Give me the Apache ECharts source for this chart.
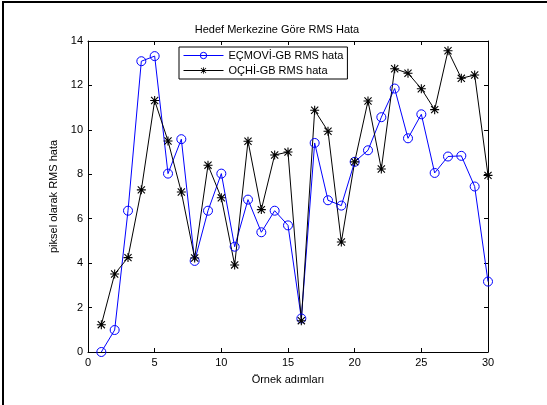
<!DOCTYPE html>
<html>
<head>
<meta charset="utf-8">
<script src="https://cdn.jsdelivr.net/npm/echarts@6/dist/echarts.min.js"></script>
<style>
  html, body { margin: 0; padding: 0; background: #fff; }
  #chart { width: 547px; height: 405px; }
</style>
</head>
<body>
<div id="chart"></div>
<script>
// sample steps (x) and the two RMS error series
const steps = [1, 2, 3, 4, 5, 6, 7, 8, 9, 10, 11, 12, 13, 14, 15,
               16, 17, 18, 19, 20, 21, 22, 23, 24, 25, 26, 27, 28, 29, 30];
const ecmoviRms = [0.0, 0.99, 6.36, 13.09, 13.32, 8.03, 9.58, 4.10, 6.36, 8.03,
                   4.74, 6.86, 5.39, 6.36, 5.70, 1.51, 9.41, 6.83, 6.59, 8.56,
                   9.08, 10.57, 11.86, 9.62, 10.70, 8.06, 8.80, 8.83, 7.45, 3.17];
const ochiRms = [1.23, 3.51, 4.25, 7.30, 11.32, 9.50, 7.20, 4.23, 8.41, 6.94,
                 3.92, 9.49, 6.41, 8.87, 9.00, 1.41, 10.88, 9.94, 4.95, 8.56,
                 11.30, 8.24, 12.75, 12.55, 11.85, 10.91, 13.56, 12.32, 12.47, 7.95];

const pairs = (ys) => steps.map((x, i) => [x, ys[i]]);

// matlab-style '*' marker
const asterisk = 'path://M8.8,0L11.2,0L11.2,20L8.8,20Z M0,8.8L20,8.8L20,11.2L0,11.2Z ' +
  'M1.2,2.9L2.9,1.2L18.8,17.1L17.1,18.8Z M17.1,1.2L18.8,2.9L2.9,18.8L1.2,17.1Z';

const font = 'Liberation Sans';
const tickStyle = { show: true, inside: true, length: 4, lineStyle: { color: '#000' } };

const chart = echarts.init(document.getElementById('chart'), null, { renderer: 'canvas' });
chart.setOption({
  animation: false,
  backgroundColor: '#fff',
  textStyle: { fontFamily: font },
  title: {
    text: 'Hedef Merkezine Göre RMS Hata',
    left: 272, top: 19, textAlign: 'center',
    textStyle: { fontFamily: font, fontSize: 11, fontWeight: 'normal', color: '#000' }
  },
  grid: { left: 88, right: 59, top: 41, bottom: 53 },
  legend: {
    orient: 'vertical',
    left: 179, top: 47,
    padding: [3, 4, 3, 4],
    itemGap: 4,
    itemWidth: 40, itemHeight: 8,
    backgroundColor: '#fff',
    borderColor: '#000', borderWidth: 1, borderRadius: 0,
    lineStyle: { width: 1 },
    itemStyle: { borderWidth: 1 },
    textStyle: { fontFamily: font, fontSize: 11, color: '#000' },
    data: ['EÇMOVİ-GB RMS hata', 'OÇHİ-GB RMS hata']
  },
  xAxis: [{
    type: 'value', min: 0, max: 30, interval: 5,
    name: 'Örnek adımları', nameLocation: 'middle', nameGap: 22,
    nameTextStyle: { fontFamily: font, fontSize: 11, color: '#000' },
    axisLine: { show: true, onZero: false, lineStyle: { color: '#000' } },
    axisTick: tickStyle,
    axisLabel: { fontFamily: font, fontSize: 11, color: '#000', margin: 5 },
    splitLine: { show: false }
  }, {
    type: 'value', min: 0, max: 30, interval: 5, position: 'top',
    axisLine: { show: true, onZero: false, lineStyle: { color: '#000' } },
    axisTick: tickStyle, axisLabel: { show: false }, splitLine: { show: false }
  }],
  yAxis: [{
    type: 'value', min: 0, max: 14, interval: 2,
    name: 'piksel olarak RMS hata', nameLocation: 'middle', nameGap: 22,
    nameTextStyle: { fontFamily: font, fontSize: 11, color: '#000' },
    axisLine: { show: true, onZero: false, lineStyle: { color: '#000' } },
    axisTick: tickStyle,
    axisLabel: { fontFamily: font, fontSize: 11, color: '#000', margin: 5 },
    splitLine: { show: false }
  }, {
    type: 'value', min: 0, max: 14, interval: 2, position: 'right',
    axisLine: { show: true, onZero: false, lineStyle: { color: '#000' } },
    axisTick: tickStyle, axisLabel: { show: false }, splitLine: { show: false }
  }],
  series: [{
    name: 'EÇMOVİ-GB RMS hata',
    type: 'line',
    data: pairs(ecmoviRms),
    symbol: 'circle', symbolSize: 9,
    lineStyle: { color: '#0000ff', width: 1 },
    itemStyle: { color: 'transparent', borderColor: '#0000ff', borderWidth: 1 }
  }, {
    name: 'OÇHİ-GB RMS hata',
    type: 'line',
    data: pairs(ochiRms),
    symbol: asterisk, symbolSize: 9,
    lineStyle: { color: '#000', width: 1 },
    itemStyle: { color: '#000' }
  }],
  graphic: [{
    type: 'rect',
    shape: { x: 3, y: 2, width: 560, height: 420 },
    style: { fill: 'none', stroke: '#000', lineWidth: 2 },
    silent: true, z: 100
  }]
});
</script>
</body>
</html>
